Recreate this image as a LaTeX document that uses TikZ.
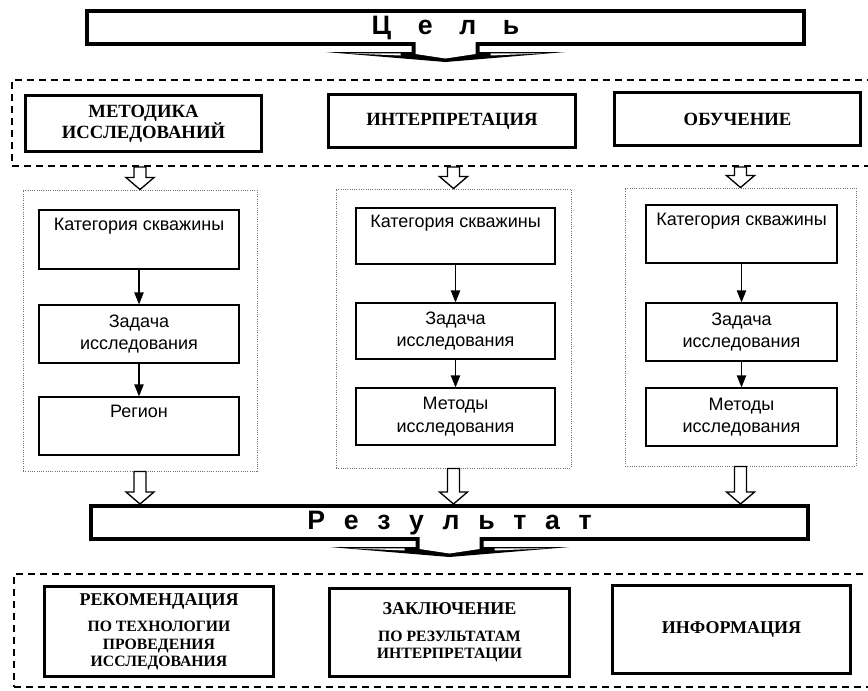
\documentclass[tikz,border=0pt]{standalone}
\usepackage{fontspec}
\setmainfont{Liberation Serif}
\newfontfamily\sansfont{Liberation Sans}
\usetikzlibrary{arrows.meta,calc}

\newdimen\pxu \pxu=0.75pt

% white block arrow from a start point straight down to a tip
\newcommand{\hollowarrow}[2]{%
  \draw[hollow] let \p1=(#1), \p2=(#2) in
    (\x2-6\pxu,\y1) -- (\x2-6\pxu,\y2+12\pxu) -- (\x2-14\pxu,\y2+12\pxu) -- (\x2,\y2)
    -- (\x2+14\pxu,\y2+12\pxu) -- (\x2+6\pxu,\y2+12\pxu) -- (\x2+6\pxu,\y1) -- cycle;}

% flat arrow hanging under a banner
\newcommand{\bannerarrow}[1]{%
  \fill ($(#1)+(-34,-4)$) -- ++(0,10) -- ++(-86,0) -- ($(#1)+(0,16)$)
    -- ($(#1)+(120,6)$) -- ++(-86,0) -- ++(0,-10) -- cycle;
  \fill[white] ($(#1)+(-30,-5)$) -- ($(#1)+(-30,8)$) -- ($(#1)+(0,12.5)$)
    -- ($(#1)+(30,8)$) -- ($(#1)+(30,-5)$) -- cycle;
  \fill[white] ($(#1)+(-100,7.3)$) -- ($(#1)+(-45,7.3)$) -- ($(#1)+(-45,9.5)$) -- cycle;
  \fill[white] ($(#1)+(100,7.3)$) -- ($(#1)+(45,7.3)$) -- ($(#1)+(45,9.5)$) -- cycle;}

\begin{document}
\begin{tikzpicture}[x=0.75pt,y=-0.75pt,
  banner/.style={draw, fill=white, line width=3pt, inner sep=0pt, text depth=3pt, font=\sansfont\bfseries\fontsize{20}{22}\selectfont},
  dashframe/.style={draw, line width=1.5pt, dash pattern=on 5.5pt off 3.5pt, inner sep=0pt},
  headbox/.style={draw, line width=2.6pt, align=center, inner sep=0pt, font=\bfseries\fontsize{14}{16}\selectfont},
  panel/.style={draw=black!55, line width=0.7pt, densely dotted, inner sep=0pt},
  stepbox/.style={draw, line width=0.9pt, align=center, inner sep=0pt, font=\sansfont\fontsize{13.5}{17}\selectfont},
  outbox/.style={draw, line width=2.2pt, align=center, inner sep=0pt, font=\bfseries\fontsize{11.8}{13}\selectfont},
  hollow/.style={draw, fill=white, line width=1pt},
  link/.style={-{Triangle[width=7pt,length=9pt]}, line width=0.9pt}]
  \useasboundingbox (0,0) rectangle (868,690);

  % goal
  \node[banner, minimum width=717\pxu, minimum height=33\pxu] (goal) at (445.5,27.5) {Ц\quad е\quad л\quad ь};
  \node[dashframe, minimum width=868\pxu, minimum height=86\pxu] (aims) at (446,123) {};
  \node[headbox, minimum width=236\pxu, minimum height=56\pxu] (method) at (143.5,123.5) {МЕТОДИКА\\ИССЛЕДОВАНИЙ};
  \node[headbox, minimum width=247\pxu, minimum height=53\pxu] (interp) at (452,121) {ИНТЕРПРЕТАЦИЯ};
  \node[headbox, minimum width=246\pxu, minimum height=53\pxu] (train) at (737.5,119) {ОБУЧЕНИЕ};
  \bannerarrow{goal.south}

  % three columns
  \node[panel, minimum width=234\pxu, minimum height=281\pxu] (panL) at (140,330.5) {};
  \node[panel, minimum width=235\pxu, minimum height=279\pxu] (panM) at (453.5,328.5) {};
  \node[panel, minimum width=231\pxu, minimum height=278\pxu] (panR) at (740.5,327) {};

  \node[stepbox, minimum width=200\pxu, minimum height=59\pxu] (catL) at (139,239.5) {Категория скважины\\\strut};
  \node[stepbox, minimum width=200\pxu, minimum height=58\pxu] (taskL) at (139,334) {Задача\\исследования};
  \node[stepbox, minimum width=200\pxu, minimum height=58\pxu] (regL) at (139,426) {Регион\\\strut};

  \node[stepbox, minimum width=199\pxu, minimum height=56\pxu] (catM) at (455.5,236) {Категория скважины\\\strut};
  \node[stepbox, minimum width=199\pxu, minimum height=56\pxu] (taskM) at (455.5,331) {Задача\\исследования};
  \node[stepbox, minimum width=199\pxu, minimum height=57\pxu] (methM) at (455.5,416.5) {Методы\\исследования};

  \node[stepbox, minimum width=191\pxu, minimum height=58\pxu] (catR) at (741.5,234) {Категория скважины\\\strut};
  \node[stepbox, minimum width=191\pxu, minimum height=58\pxu] (taskR) at (741.5,332) {Задача\\исследования};
  \node[stepbox, minimum width=191\pxu, minimum height=58\pxu] (methR) at (741.5,417) {Методы\\исследования};

  \draw[link] (catL) -- (taskL);
  \draw[link] (taskL) -- (regL);
  \draw[link] (catM) -- (taskM);
  \draw[link] (taskM) -- (methM);
  \draw[link] (catR) -- (taskR);
  \draw[link] (taskR) -- (methR);

  % result
  \node[banner, minimum width=717\pxu, minimum height=33\pxu] (result) at (449.5,522.5)
    {Р\hspace{0.7em}е\hspace{0.7em}з\hspace{0.7em}у\hspace{0.7em}л\hspace{0.7em}ь\hspace{0.7em}т\hspace{0.7em}а\hspace{0.7em}т};
  \node[dashframe, minimum width=866\pxu, minimum height=113\pxu] (outputs) at (447,630.5) {};
  \node[outbox, minimum width=229\pxu, minimum height=90\pxu] (advice) at (159,631.5)
    {{\fontsize{13.5}{15}\selectfont РЕКОМЕНДАЦИЯ}\\[7pt]ПО ТЕХНОЛОГИИ\\ПРОВЕДЕНИЯ\\ИССЛЕДОВАНИЯ};
  \node[outbox, minimum width=240\pxu, minimum height=88\pxu] (report) at (449.5,632.5)
    {{\fontsize{13.5}{15}\selectfont ЗАКЛЮЧЕНИЕ}\\[7pt]ПО РЕЗУЛЬТАТАМ\\ИНТЕРПРЕТАЦИИ};
  \node[outbox, minimum width=238\pxu, minimum height=88\pxu] (info) at (731.5,629.5)
    {{\fontsize{13.5}{15}\selectfont ИНФОРМАЦИЯ}};
  \bannerarrow{result.south}

  \hollowarrow{panL.north |- aims.south}{panL.north}
  \hollowarrow{panM.north |- aims.south}{panM.north}
  \hollowarrow{panR.north |- aims.south}{panR.north}
  \hollowarrow{panL.south}{panL.south |- result.north}
  \hollowarrow{panM.south}{panM.south |- result.north}
  \hollowarrow{panR.south}{panR.south |- result.north}
\end{tikzpicture}
\end{document}
